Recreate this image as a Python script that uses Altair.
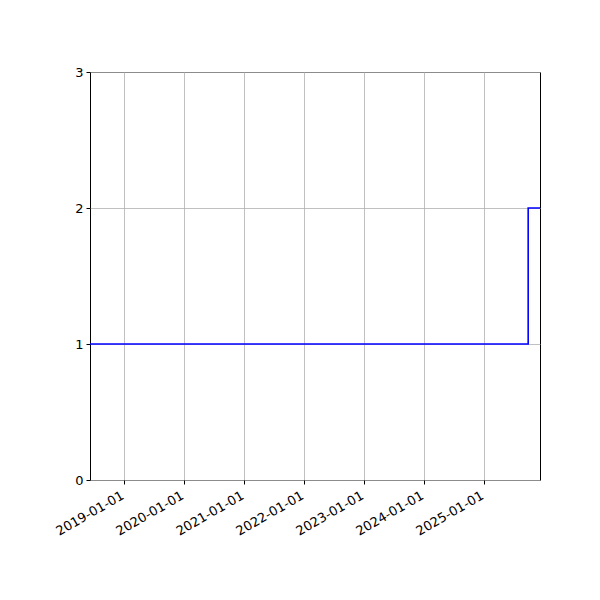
import altair as alt
import pandas as pd

dates = ["2018-06-06", "2025-09-26", "2025-12-07"]
values = [1, 2, 2]
tick_years = [2019, 2020, 2021, 2022, 2023, 2024, 2025]
y_ticks = [0, 1, 2, 3]

df = pd.DataFrame({"date": dates, "value": values})

x_axis = alt.Axis(
    values=[alt.DateTime(year=y, month=1, date=1, utc=True) for y in tick_years],
    format="%Y-%m-%d",
    labelAngle=-30,
    labelAlign="right",
    labelBaseline="top",
    labelOffset=-5,
    title=None,
    grid=True,
    gridColor="#b0b0b0",
    gridWidth=0.8,
    domain=False,
    tickColor="black",
    tickSize=4,
    labelColor="black",
    labelFont="DejaVu Sans",
    labelFontSize=13,
    labelPadding=5,
    labelOverlap=False,
)
y_axis = alt.Axis(
    values=y_ticks,
    format="d",
    title=None,
    grid=True,
    gridColor="#b0b0b0",
    gridWidth=0.8,
    domain=False,
    tickColor="black",
    tickSize=4,
    labelColor="black",
    labelFont="DejaVu Sans",
    labelFontSize=13,
    labelPadding=3,
)

chart = (
    alt.Chart(df)
    .mark_line(interpolate="step-after", color="#0000ff", strokeWidth=1.6, clip=True)
    .encode(
        x=alt.X(
            "date:T",
            scale=alt.Scale(
                type="utc",
                domain=[
                    alt.DateTime(year=2018, month=6, date=6, utc=True),
                    alt.DateTime(year=2025, month=12, date=7, utc=True),
                ],
            ),
            axis=x_axis,
        ),
        y=alt.Y("value:Q", scale=alt.Scale(domain=[0, 3], nice=False), axis=y_axis),
    )
    .properties(
        width=450,
        height=408,
        autosize=alt.AutoSizeParams(type="none"),
        padding={"left": 82, "top": 64, "right": 52, "bottom": 112},
        background="white",
    )
    .configure_view(stroke="black", strokeWidth=1)
)

chart.save("out.html", embed_options={"renderer": "svg", "actions": False})
